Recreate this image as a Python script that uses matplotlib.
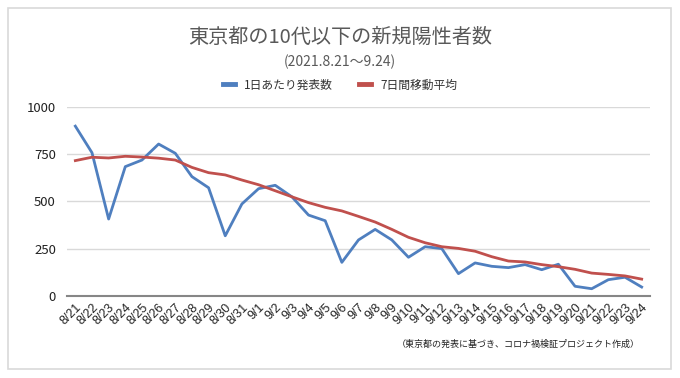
import matplotlib
matplotlib.use("Agg")
import matplotlib.pyplot as plt
from matplotlib.patches import Rectangle

plt.rcParams["font.family"] = ["Noto Sans CJK JP", "DejaVu Sans"]

dates = ["8/21", "8/22", "8/23", "8/24", "8/25", "8/26", "8/27", "8/28", "8/29", "8/30", "8/31",
         "9/1", "9/2", "9/3", "9/4", "9/5", "9/6", "9/7", "9/8", "9/9", "9/10", "9/11", "9/12",
         "9/13", "9/14", "9/15", "9/16", "9/17", "9/18", "9/19", "9/20", "9/21", "9/22", "9/23", "9/24"]
daily = [900, 759, 407, 685, 720, 805, 756, 632, 573, 318, 487, 568, 586, 525, 428, 398, 177,
         296, 352, 296, 204, 260, 250, 117, 174, 156, 149, 165, 138, 167, 50, 37, 85, 98, 46]
avg7 = [717, 735, 731, 740, 736, 730, 720, 681, 653, 641, 614, 589, 557, 525, 494, 469, 450,
        421, 391, 352, 310, 281, 260, 251, 236, 207, 184, 179, 165, 154, 140, 120, 113, 105, 88]

BLUE = "#4f7fbf"
RED = "#c0504d"
GRAY = "#595959"

fig = plt.figure(figsize=(6.8, 3.78), dpi=100)
fig.patches.append(Rectangle((8 / 680, 1 - 369 / 378), 663 / 680, 361 / 378,
                             transform=fig.transFigure, fill=False,
                             edgecolor="#d9d9d9", linewidth=1.2))

ax = fig.add_axes([67 / 680, 1 - 295.7 / 378, 583 / 680, 188.4 / 378])
x = list(range(len(dates)))
ax.plot(x, daily, color=BLUE, linewidth=2, label="1日あたり発表数")
ax.plot(x, avg7, color=RED, linewidth=2, label="7日間移動平均")

ax.set_xlim(-0.5, len(dates) - 0.5)
ax.set_ylim(0, 1000)
ax.set_yticks([0, 250, 500, 750, 1000])
ax.grid(axis="y", color="#d9d9d9", linewidth=1)
ax.set_axisbelow(True)
for side in ("top", "right", "left"):
    ax.spines[side].set_visible(False)
ax.spines["bottom"].set_color("#868686")
ax.spines["bottom"].set_linewidth(1.5)
ax.tick_params(axis="both", length=0, colors="#222222")
ax.tick_params(axis="y", labelsize=9.5, pad=8)
ax.set_xticks(x)
ax.set_xticklabels(dates, rotation=45, ha="right", rotation_mode="anchor",
                   fontsize=9, family=["Liberation Sans", "DejaVu Sans"])
ax.tick_params(axis="x", pad=4)

fig.text(0.5, 1 - 37 / 378, "東京都の10代以下の新規陽性者数", ha="center", va="center",
         fontsize=14.5, color=GRAY)
fig.text(0.5, 1 - 62 / 378, "(2021.8.21〜9.24)", ha="center", va="center",
         fontsize=10, color=GRAY)
fig.legend(loc="center", bbox_to_anchor=(0.5, 1 - 85 / 378), ncol=2, frameon=False,
           fontsize=8.5, handlelength=1.0, handletextpad=0.8, columnspacing=2.2,
           labelcolor="#333333")
for h in fig.legends[0].get_lines():
    h.set_linewidth(3.5)
fig.text(640 / 680, 1 - 344 / 378, "（東京都の発表に基づき、コロナ禍検証プロジェクト作成）",
         ha="right", va="center", fontsize=6.5, color="#222222")

fig.savefig("out.png", dpi=100)
